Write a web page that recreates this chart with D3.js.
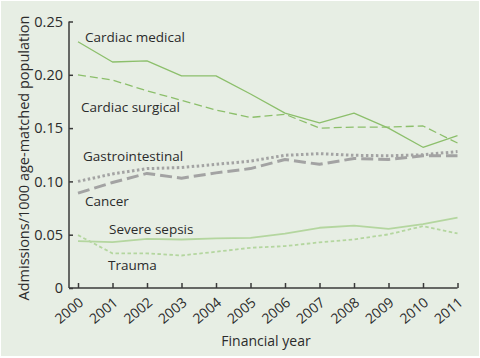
<!DOCTYPE html>
<html><head><meta charset="utf-8">
<script src="https://cdn.jsdelivr.net/npm/d3@7"></script>
<style>
html,body{margin:0;padding:0;background:#fff;}
svg{display:block;}
text{font-family:"Open Sans",sans-serif;fill:#2b2b2b;}
</style></head>
<body><svg id="c" width="480" height="358"></svg>
<script>
const years = [2000,2001,2002,2003,2004,2005,2006,2007,2008,2009,2010,2011];
const yTicks = [0,0.05,0.10,0.15,0.20,0.25];
const yTickLabels = ["0","0.05","0.10","0.15","0.20","0.25"];
const cardiacMedical = [0.231,0.212,0.213,0.199,0.199,0.182,0.164,0.155,0.164,0.150,0.132,0.143];
const cardiacSurgical = [0.200,0.195,0.185,0.176,0.167,0.160,0.163,0.150,0.151,0.151,0.152,0.136];
const gastrointestinal = [0.100,0.107,0.112,0.113,0.116,0.119,0.1245,0.126,0.1245,0.124,0.125,0.128];
const cancer = [0.089,0.099,0.1075,0.103,0.108,0.112,0.1205,0.116,0.1215,0.1205,0.124,0.124];
const severeSepsis = [0.044,0.043,0.046,0.0455,0.0465,0.047,0.051,0.0565,0.0585,0.0555,0.060,0.066];
const trauma = [0.0496,0.0325,0.0325,0.0305,0.034,0.0377,0.0393,0.0428,0.0456,0.0503,0.058,0.0512];
const seriesNames = ["Cardiac medical","Cardiac surgical","Gastrointestinal","Cancer","Severe sepsis","Trauma"];
const yTitle = "Admissions/1000 age-matched population";
const xTitle = "Financial year";

const series = [
  {name:seriesNames[0], v:cardiacMedical, color:"#8cbf6b", w:1.3, dash:null, lx:85, ly:42},
  {name:seriesNames[1], v:cardiacSurgical, color:"#8cbf6b", w:1.3, dash:"8,4", lx:81, ly:111.5},
  {name:seriesNames[2], v:gastrointestinal, color:"#a3a3a3", w:3, dash:"2.5,2.5", lx:83, ly:160.5},
  {name:seriesNames[3], v:cancer, color:"#a3a3a3", w:3, dash:"12,5", lx:85, ly:205.5},
  {name:seriesNames[4], v:severeSepsis, color:"#b4d69f", w:1.8, dash:null, lx:109, ly:233.5},
  {name:seriesNames[5], v:trauma, color:"#b4d69f", w:1.8, dash:"3.5,2.5", lx:108, ly:270}
];

const svg = d3.select("#c");
svg.append("rect").attr("x",1).attr("y",1).attr("width",478).attr("height",355).attr("fill","#e7eee4");

const x = d3.scaleLinear().domain([2000,2011]).range([78,457.5]);
const y = d3.scaleLinear().domain([0,0.25]).range([288,21.5]);

// axes
const yAxis = d3.axisLeft(y).tickValues(yTicks).tickSize(-4).tickPadding(6)
  .tickFormat((d,i)=>yTickLabels[i]);
const gy = svg.append("g").attr("transform","translate(69,0)").call(yAxis);
gy.select(".domain").attr("d","M0,"+y(0.25)+"V"+y(0));
gy.selectAll("line,path").attr("stroke","#3a3a3a").attr("stroke-width",1.5);
gy.selectAll("text").attr("font-size",14.5).attr("font-family","Open Sans").attr("fill","#2b2b2b");

const xAxis = d3.axisBottom(x).tickValues(years).tickSize(-5).tickFormat(d3.format("d"));
const gx = svg.append("g").attr("transform","translate(0,288)").call(xAxis);
gx.select(".domain").attr("d","M69,0H"+x(2011));
gx.selectAll("line,path").attr("stroke","#3a3a3a").attr("stroke-width",1.5);
gx.selectAll("text").attr("font-size",14).attr("font-family","Open Sans").attr("fill","#2b2b2b")
  .attr("text-anchor","end").attr("y",0).attr("dy",0)
  .attr("transform","translate(6,16) rotate(-40)");

// lines
const line = d3.line().x((d,i)=>x(years[i])).y(d=>y(d));
series.forEach(s=>{
  svg.append("path").datum(s.v).attr("d",line).attr("fill","none")
    .attr("stroke",s.color).attr("stroke-width",s.w)
    .attr("stroke-dasharray",s.dash).attr("stroke-linejoin","round");
  svg.append("text").attr("x",s.lx).attr("y",s.ly).attr("font-size",13.5).text(s.name);
});

svg.append("text").attr("transform","translate(28.5,158) rotate(-90)").attr("text-anchor","middle")
  .attr("font-size",14.5).text(yTitle);
svg.append("text").attr("x",266).attr("y",345.5).attr("text-anchor","middle")
  .attr("font-size",14).text(xTitle);
</script></body></html>
